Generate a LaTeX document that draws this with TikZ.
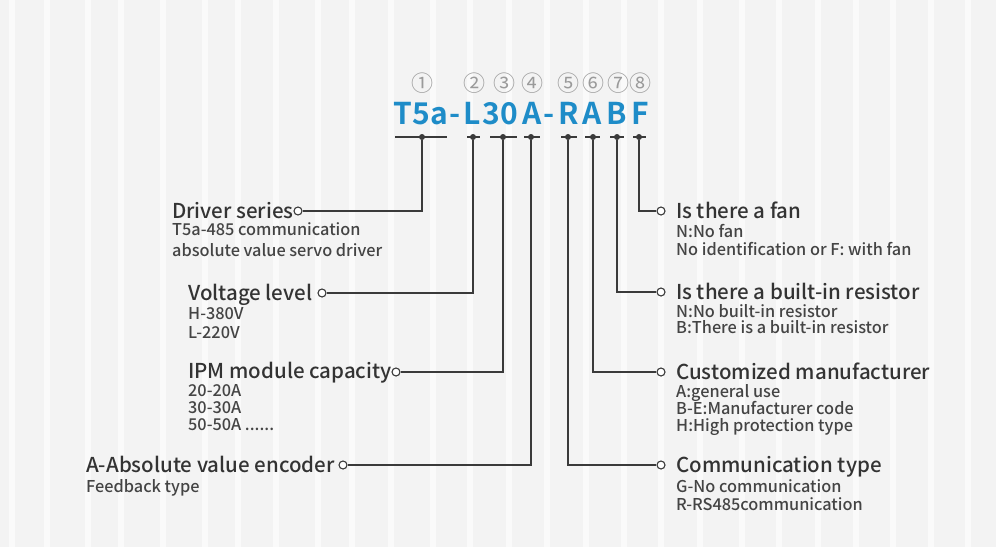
\documentclass[tikz,border=0pt]{standalone}
\usepackage{fontspec}
\setmainfont{Noto Sans CJK SC Medium}
\newfontfamily\codefont{Noto Sans CJK SC Bold}
\newfontfamily\numfont{Noto Sans CJK SC}
\definecolor{bgc}{HTML}{F3F3F3}
\definecolor{stripec}{HTML}{FAFAFA}
\definecolor{codeblue}{HTML}{1E8CC8}
\definecolor{linec}{HTML}{3A3A3A}
\definecolor{titlec}{HTML}{333333}
\definecolor{subc}{HTML}{444444}
\definecolor{numc}{HTML}{9A9A9A}
\tikzset{
  conn/.style={draw=linec, line width=1.4pt},
  tick/.style={draw=linec, line width=1.4pt},
  dotmark/.style={circle, fill=linec, inner sep=0pt, minimum size=6pt},
  ring/.style={circle, draw=linec, fill=white, line width=1.1pt, inner sep=0pt, minimum size=8pt},
  codechar/.style={text=codeblue, font=\codefont\fontsize{30}{30}\selectfont, inner sep=0pt, anchor=base},
  numlab/.style={text=numc, font=\numfont\fontsize{22}{22}\selectfont, inner sep=0pt},
  ttl/.style={text=titlec, font=\fontsize{20.5}{20.5}\selectfont, inner sep=0pt, anchor=base west},
  sub/.style={text=subc, font=\fontsize{16.3}{16.3}\selectfont, inner sep=0pt, anchor=base west},
  stripe/.style={draw=stripec, line width=6pt},
}
\begin{document}
\begin{tikzpicture}[x=1pt,y=-1pt]
\fill[bgc] (0,0) rectangle (996,547);
\useasboundingbox (0,0) rectangle (996,547);
\foreach \sx in {12,47,88,121,163,205,238,276,318,352,391,433,470,509,547,586,624,661,700,742,779,818,856,893,931,968} {
  \draw[stripe] (\sx,0) -- (\sx,547);
}
% circled numbers
\node[numlab] (n1) at (422,83) {①};
\node[numlab] (n2) at (474,83) {②};
\node[numlab] (n3) at (504,83) {③};
\node[numlab] (n4) at (532,83) {④};
\node[numlab] (n5) at (568,83) {⑤};
\node[numlab] (n6) at (593,83) {⑥};
\node[numlab] (n7) at (618,83) {⑦};
\node[numlab] (n8) at (640,83) {⑧};
% code
\node[codechar] (c1) at (421,124) {T5a};
\node[codechar] (c2) at (455,124) {-};
\node[codechar] (c3) at (472,124) {L};
\node[codechar] (c4) at (500,124) {30};
\node[codechar] (c5) at (532,124) {A};
\node[codechar] (c6) at (549,124) {-};
\node[codechar] (c7) at (569,124) {R};
\node[codechar] (c8) at (592,124) {A};
\node[codechar] (c9) at (617,124) {B};
\node[codechar] (c10) at (640,124) {F};
% ticks
\coordinate (t1a) at (395,137); \coordinate (t1b) at (447,137);
\coordinate (t2a) at (467,137); \coordinate (t2b) at (480,137);
\coordinate (t3a) at (490,137); \coordinate (t3b) at (517,137);
\coordinate (t4a) at (524,137); \coordinate (t4b) at (540,137);
\coordinate (t5a) at (561,137); \coordinate (t5b) at (577,137);
\coordinate (t6a) at (585,137); \coordinate (t6b) at (600,137);
\coordinate (t7a) at (610,137); \coordinate (t7b) at (624,137);
\coordinate (t8a) at (633,137); \coordinate (t8b) at (646,137);
\foreach \i in {1,...,8} { \draw[tick] (t\i a) -- (t\i b); }
% dots
\node[dotmark] (d1) at (422,137) {};
\node[dotmark] (d2) at (473,137) {};
\node[dotmark] (d3) at (503,137) {};
\node[dotmark] (d4) at (531,137) {};
\node[dotmark] (d5) at (568,137) {};
\node[dotmark] (d6) at (593,137) {};
\node[dotmark] (d7) at (617,137) {};
\node[dotmark] (d8) at (639,137) {};
% rings
\node[ring] (r1) at (298,211) {};
\node[ring] (r2) at (322,293) {};
\node[ring] (r3) at (396,372) {};
\node[ring] (r4) at (343,465) {};
\node[ring] (r5) at (661,465) {};
\node[ring] (r6) at (661,372) {};
\node[ring] (r7) at (661,292) {};
\node[ring] (r8) at (661,211) {};
% connectors
\draw[conn] (d1) |- (r1);
\draw[conn] (d2) |- (r2);
\draw[conn] (d3) |- (r3);
\draw[conn] (d4) |- (r4);
\draw[conn] (d5) |- (r5);
\draw[conn] (d6) |- (r6);
\draw[conn] (d7) |- (r7);
\draw[conn] (d8) |- (r8);
% left labels
\node[ttl] (l1) at (172,218) {Driver series};
\node[sub] (l1a) at (172,235) {T5a-485 communication};
\node[sub] (l1b) at (172,256) {absolute value servo driver};
\node[ttl] (l2) at (188,300) {Voltage level};
\node[sub] (l2a) at (188,319) {H-380V};
\node[sub] (l2b) at (188,338) {L-220V};
\node[ttl] (l3) at (188,378) {IPM module capacity};
\node[sub] (l3a) at (188,396) {20-20A};
\node[sub] (l3b) at (188,413) {30-30A};
\node[sub] (l3c) at (188,430) {50-50A ......};
\node[ttl] (l4) at (86,472) {A-Absolute value encoder};
\node[sub] (l4a) at (86,492) {Feedback type};
% right labels
\node[ttl] (g8) at (676,218) {Is there a fan};
\node[sub] (g8a) at (676,237) {N:No fan};
\node[sub] (g8b) at (676,255) {No identification or F: with fan};
\node[ttl] (g7) at (676,299) {Is there a built-in resistor};
\node[sub] (g7a) at (676,317) {N:No built-in resistor};
\node[sub] (g7b) at (676,333) {B:There is a built-in resistor};
\node[ttl] (g6) at (676,379) {Customized manufacturer};
\node[sub] (g6a) at (676,397) {A:general use};
\node[sub] (g6b) at (676,414) {B-E:Manufacturer code};
\node[sub] (g6c) at (676,431) {H:High protection type};
\node[ttl] (g5) at (676,472) {Communication type};
\node[sub] (g5a) at (676,492) {G-No communication};
\node[sub] (g5b) at (676,510) {R-RS485communication};
\end{tikzpicture}
\end{document}
